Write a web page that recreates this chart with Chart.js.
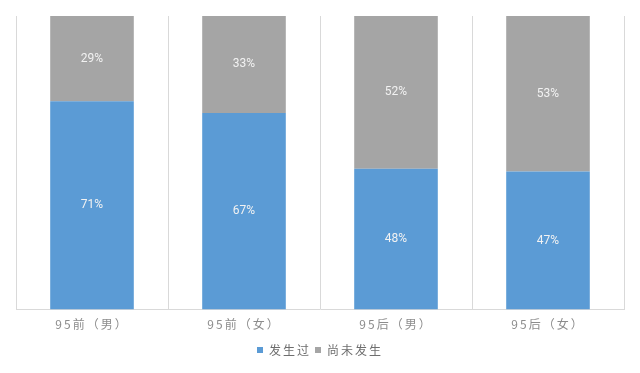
<!DOCTYPE html>
<html><head><meta charset="utf-8">
<script src="https://cdn.jsdelivr.net/npm/chart.js@4/dist/chart.umd.min.js"></script>
<style>html,body{margin:0;padding:0;background:#fff}#wrap{width:640px;height:373px}</style>
</head><body><div id="wrap"><canvas id="c"></canvas></div>
<script>
const categories = ['95前（男）', '95前（女）', '95后（男）', '95后（女）'];
const happened = [71, 67, 48, 47];
const notYet = [29, 33, 52, 53];
const seriesNames = ['发生过', '尚未发生'];

const FONT = '"Noto Sans CJK SC", "Noto Sans", sans-serif';
const NARROW = '"Liberation Sans Narrow", Roboto, sans-serif';

const spacing = {
  id: 'spacing',
  beforeLayout(chart) { chart.ctx.letterSpacing = '2px'; },
  beforeDraw(chart) { chart.ctx.letterSpacing = '2px'; }
};

const barLabels = {
  id: 'barLabels',
  afterDatasetsDraw(chart) {
    const ctx = chart.ctx;
    ctx.save();
    ctx.letterSpacing = '0px';
    ctx.font = '12px ' + NARROW;
    ctx.fillStyle = '#f2f2f2';
    ctx.textAlign = 'center';
    ctx.textBaseline = 'middle';
    chart.data.datasets.forEach((ds, di) => {
      const meta = chart.getDatasetMeta(di);
      meta.data.forEach((bar, i) => {
        const y = (bar.y + bar.base) / 2;
        ctx.fillText(ds.data[i] + '%', bar.x, y);
      });
    });
    ctx.restore();
  }
};

new Chart(document.getElementById('c'), {
  type: 'bar',
  data: {
    labels: categories,
    datasets: [
      { label: seriesNames[0], data: happened, backgroundColor: '#5b9bd5', categoryPercentage: 1, barPercentage: 0.55 },
      { label: seriesNames[1], data: notYet, backgroundColor: '#a5a5a5', categoryPercentage: 1, barPercentage: 0.55 }
    ]
  },
  options: {
    responsive: true,
    maintainAspectRatio: false,
    animation: false,
    layout: { padding: { left: 16, right: 16, top: 16, bottom: 7 } },
    plugins: {
      legend: {
        position: 'bottom',
        labels: { font: { family: FONT, size: 12 }, color: '#6e6e6e', boxWidth: 6, boxHeight: 6, padding: 4 }
      },
      tooltip: { enabled: false }
    },
    scales: {
      x: {
        stacked: true,
        grid: { offset: true, color: '#d9d9d9', drawTicks: false },
        border: { color: '#d9d9d9' },
        ticks: { font: { family: FONT, size: 12 }, color: '#8c8c8c', padding: 8 }
      },
      y: { stacked: true, min: 0, max: 100, display: false }
    }
  },
  plugins: [spacing, barLabels]
});
</script></body></html>
